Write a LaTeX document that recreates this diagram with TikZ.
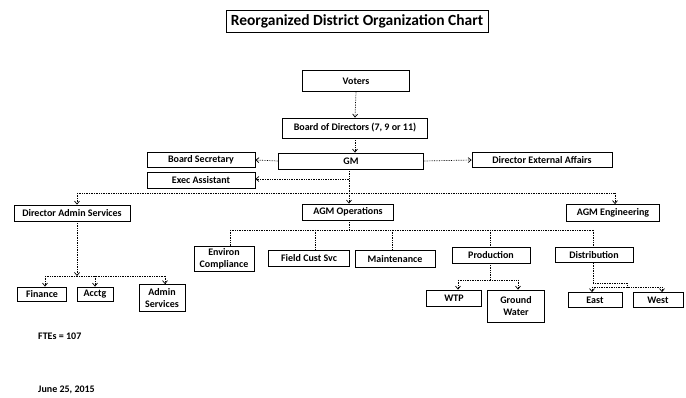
\documentclass[tikz,border=0pt]{standalone}
\usepackage{fontspec}
\setmainfont{Carlito}
\usetikzlibrary{arrows.meta}
\begin{document}
\begin{tikzpicture}[x=1pt,y=-1pt,
  box/.style={draw=black,line width=0.8pt,fill=white,inner sep=1pt,align=center,
    font=\bfseries\fontsize{10}{11.5}\selectfont},
  conn/.style={densely dotted,line width=0.7pt},
  arr/.style={conn,-{Straight Barb[length=3pt,width=5pt]}}]
\useasboundingbox (0,0) rectangle (686,398);
% nodes
\node[box,minimum width=262pt,minimum height=22pt,font=\bfseries\fontsize{15.5}{17}\selectfont] (title) at (357,21) {Reorganized District Organization Chart};
\node[box,minimum width=107pt,minimum height=21pt] (voters) at (356,81) {Voters};
\node[box,minimum width=145pt,minimum height=20pt] (board) at (355,128) {Board of Directors (7, 9 or 11)};
\node[box,minimum width=145pt,minimum height=16pt] (gm) at (351,161) {GM};
\node[box,minimum width=108pt,minimum height=15pt] (bsec) at (201,160) {Board Secretary};
\node[box,minimum width=108pt,minimum height=16pt] (exec) at (201,180) {Exec Assistant};
\node[box,minimum width=140pt,minimum height=15pt] (ext) at (542,160) {Director External Affairs};
\node[box,minimum width=116pt,minimum height=16pt] (das) at (72,213) {Director Admin Services};
\node[box,minimum width=91pt,minimum height=16pt] (agmops) at (348,212) {AGM Operations};
\node[box,minimum width=93pt,minimum height=17pt] (agmeng) at (613,213) {AGM Engineering};
\node[box,minimum width=60pt,minimum height=25pt] (env) at (224,259) {Environ\\Compliance};
\node[box,minimum width=81pt,minimum height=16pt] (field) at (309,258) {Field Cust Svc};
\node[box,minimum width=80pt,minimum height=17pt] (maint) at (395,259) {Maintenance};
\node[box,minimum width=78pt,minimum height=16pt] (prod) at (491,255) {Production};
\node[box,minimum width=78pt,minimum height=15pt] (dist) at (594,255) {Distribution};
\node[box,minimum width=55pt,minimum height=16pt] (wtp) at (454,298) {WTP};
\node[box,minimum width=57pt,minimum height=32pt] (gw) at (516,306) {Ground\\Water};
\node[box,minimum width=54pt,minimum height=15pt] (east) at (595,300) {East};
\node[box,minimum width=50pt,minimum height=15pt] (west) at (658,300) {West};
\node[box,minimum width=49pt,minimum height=14pt] (fin) at (42,294) {Finance};
\node[box,minimum width=36pt,minimum height=14pt] (acctg) at (95,294) {Acctg};
\node[box,minimum width=46pt,minimum height=27pt] (admsvc) at (162,298) {Admin\\Services};
\node[anchor=west,font=\bfseries\fontsize{10}{11.5}\selectfont,inner sep=0pt] (ftes) at (38,336) {FTEs = 107};
\node[anchor=west,font=\bfseries\fontsize{10}{11.5}\selectfont,inner sep=0pt] (date) at (38,390) {June 25, 2015};
% junction coordinates
\coordinate (j1) at (349,179);
\coordinate (j2) at (349,193);
\coordinate (hL) at (77,193);
\coordinate (hR) at (615,193);
\coordinate (jd) at (77,276);
\coordinate (jfin) at (45,276);
\coordinate (jacc) at (95,276);
\coordinate (jadm) at (165,276);
\coordinate (jo) at (349,230);
\coordinate (jenv) at (230,230);
\coordinate (jfld) at (315,230);
\coordinate (jmnt) at (392,230);
\coordinate (jprd) at (490,230);
\coordinate (jdst) at (593,230);
\coordinate (jp) at (490,280);
\coordinate (jwtp) at (458,280);
\coordinate (jgw) at (518,280);
\coordinate (jd1) at (593,283);
\coordinate (jd2) at (627,283);
\coordinate (jd3) at (627,287);
\coordinate (jeast) at (592,287);
\coordinate (jwest) at (662,287);
% connectors
\draw[arr] (voters.south) -- (board.north);
\draw[arr] (board.south) -- (board.south |- gm.north);
\draw[arr] (gm.west) -- (bsec.east);
\draw[arr] (gm.east) -- (ext.west);
\draw[conn] (gm.south -| j1) -- (j2);
\draw[arr] (j1) -- (exec.east |- j1);
\draw[conn] (hL) -- (hR);
\draw[arr] (hL) -- (das.north -| hL);
\draw[arr] (j2) -- (agmops.north -| j2);
\draw[arr] (hR) -- (agmeng.north -| hR);
% admin services
\draw[arr] (das.south -| jd) -- (jd);
\draw[conn] (jfin) -- (jadm);
\draw[arr] (jfin) -- (fin.north -| jfin);
\draw[arr] (jacc) -- (acctg.north -| jacc);
\draw[arr] (jadm) -- (admsvc.north -| jadm);
% operations
\draw[conn] (agmops.south -| jo) -- (jo);
\draw[conn] (jenv) -- (jdst);
\draw[conn] (jenv) -- (env.north -| jenv);
\draw[conn] (jfld) -- (field.north -| jfld);
\draw[conn] (jmnt) -- (maint.north -| jmnt);
\draw[conn] (jprd) -- (prod.north -| jprd);
\draw[conn] (jdst) -- (dist.north -| jdst);
% production
\draw[conn] (prod.south -| jp) -- (jp);
\draw[conn] (jwtp) -- (jgw);
\draw[arr] (jwtp) -- (wtp.north -| jwtp);
\draw[arr] (jgw) -- (gw.north -| jgw);
% distribution
\draw[conn] (dist.south -| jd1) -- (jd1) -- (jd2) -- (jd3);
\draw[conn] (jeast) -- (jwest);
\draw[arr] (jeast) -- (east.north -| jeast);
\draw[arr] (jwest) -- (west.north -| jwest);
\end{tikzpicture}
\end{document}
